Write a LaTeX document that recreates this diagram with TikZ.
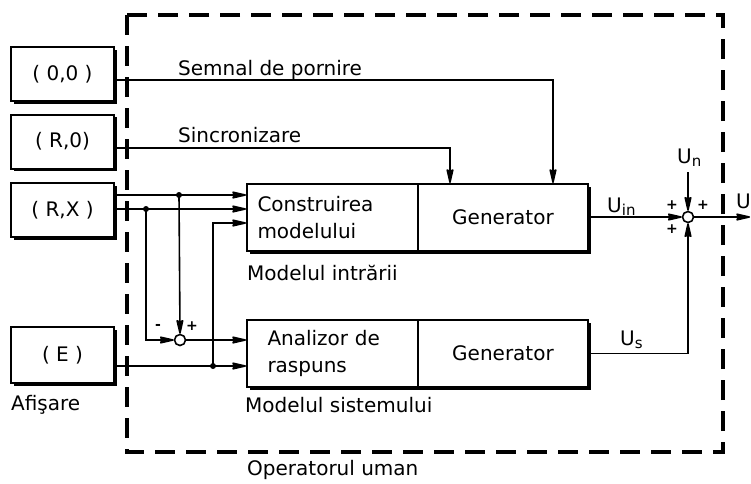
\documentclass[tikz,border=0pt]{standalone}
\usepackage{fontspec}
\setmainfont{DejaVu Sans}
\usetikzlibrary{arrows.meta,shadows,calc}
\newcommand{\subtxt}[1]{\raisebox{-3pt}{\fontsize{15}{15}\selectfont #1}}
\tikzset{myhead/.tip={Stealth[length=17pt, width=7.5pt, inset=1.5pt, round]}}
\begin{document}
\begin{tikzpicture}[x=1pt,y=-1pt,
  every node/.style={font=\fontsize{20}{27}\selectfont},
  blk/.style={draw, line width=2pt, fill=white, inner sep=0pt,
    drop shadow={shadow xshift=2.5pt, shadow yshift=-2.5pt, opacity=1, fill=black}},
  lbox/.style={blk, minimum width=103pt, minimum height=54pt},
  mbox/.style={blk, minimum width=171pt, minimum height=67pt},
  arr/.style={line width=1.6pt, -myhead},
  sumc/.style={circle, draw, line width=1.6pt, fill=white, minimum size=11pt, inner sep=0pt},
  sgn/.style={font=\fontsize{14}{14}\selectfont\bfseries, inner sep=0pt},
  lbl/.style={inner sep=0pt, anchor=base west},
  dotc/.style={fill, circle, minimum size=6pt, inner sep=0pt}
]
\useasboundingbox (0,0) rectangle (751,483);

% operator dashed frame
\draw[line width=3.3pt, dash pattern=on 20pt off 11pt] (127,15) rectangle (723,452);

% left boxes
\node[lbox] (b00) at (62.5,74) {( 0,0 )};
\node[lbox] (bR0) at (62.5,141.5) {( R,0)};
\node[lbox] (bRX) at (62.5,210) {( R,X )};
\node[lbox, minimum height=56pt] (bE) at (62.5,355) {( E )};

% main blocks
\node[mbox, text width=150pt, align=left] (cons) at (332.5,217.5) {Construirea\\modelului};
\node[mbox, minimum width=170pt] (gen1) at (503,217.5) {Generator};
\node[mbox, text width=130pt, align=left] (ana) at (332.5,353.5) {Analizor de\\raspuns};
\node[mbox, minimum width=170pt] (gen2) at (503,353.5) {Generator};

% summing points
\node[sumc] (s1) at (180,340) {};
\node[sumc] (s2) at (688,217) {};

% coordinates
\coordinate (j1) at (179,195);
\coordinate (j2) at (146,209);
\coordinate (j3) at (213,366);
\coordinate (c3) at (0,223);
\coordinate (p1) at (553,0);
\coordinate (p2) at (450,0);
\coordinate (un) at (688,172);
\coordinate (out) at (750,217);

% connectors
\draw[arr] ([yshift=-6pt]b00.east) -| (gen1.north -| p1);
\draw[arr] ([yshift=-6.5pt]bR0.east) -| (gen1.north -| p2);
\draw[arr] (bRX.east |- j1) -- (cons.west |- j1);
\draw[arr] (bRX.east |- j2) -- (cons.west |- j2);
\draw[arr] (j1) -- (s1.north);
\draw[arr] (j2) |- (s1.west);
\draw[arr] (s1.east) -- (ana.west |- s1);
\draw[arr] (bE.east |- j3) -- (ana.west |- j3);
\draw[arr] (j3) |- (cons.west |- c3);
\draw[arr] (gen1.east |- s2) -- (s2.west);
\draw[arr] (un) -- (s2.north);
\draw[arr] (gen2.east) -| (s2.south);
\draw[arr] (s2.east) -- (out);

\node[dotc] (d1) at (j1) {};
\node[dotc] (d2) at (j2) {};
\node[dotc] (d3) at (j3) {};

% signs
\node[sgn] (m1) at (158,327) {-};
\node[sgn] (p1s) at (192,326) {+};
\node[sgn] (p2a) at (672,205) {+};
\node[sgn] (p2b) at (703,205) {+};
\node[sgn] (p2c) at (672,229) {+};

% labels
\node[lbl] (tsem) at (178,75) {Semnal de pornire};
\node[lbl] (tsin) at (178,142) {Sincronizare};
\node[lbl] (tmi) at (247,280) {Modelul intrării};
\node[lbl] (tms) at (245,412) {Modelul sistemului};
\node[lbl] (top) at (247,475) {Operatorul uman};
\node[lbl] (taf) at (11,410) {Afişare};
\node[lbl] (tuin) at (607,212) {U\subtxt{in}};
\node[lbl] (tun) at (677,163) {U\subtxt{n}};
\node[lbl] (tu) at (736,208) {U};
\node[lbl] (tus) at (620,345) {U\subtxt{s}};
\end{tikzpicture}
\end{document}
